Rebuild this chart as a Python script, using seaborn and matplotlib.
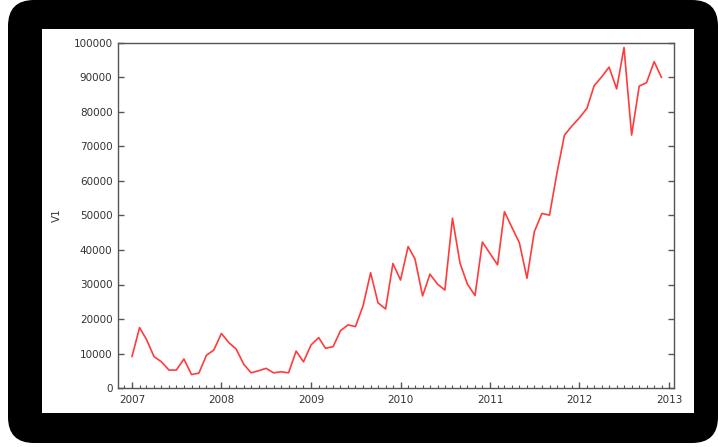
# ==================================================
# V1 monthly series, 2007 - 2012
# ==================================================
import matplotlib
matplotlib.use("Agg")
import matplotlib.pyplot as plt
import matplotlib.dates as mdates
from matplotlib.patches import FancyBboxPatch, Rectangle
from matplotlib.transforms import IdentityTransform
import seaborn as sns
import pandas as pd

sns.set_style("white")
plt.rcParams["font.family"] = ["DejaVu Sans"]

years = [2007, 2008, 2009, 2010, 2011, 2012]
v1_2007 = [9100, 17500, 14100, 9100, 7600, 5200, 5200, 8400, 3900, 4300, 9500, 11000]
v1_2008 = [15800, 13100, 11300, 6900, 4400, 5000, 5700, 4400, 4700, 4400, 10700, 7600]
v1_2009 = [12500, 14600, 11500, 12000, 16600, 18300, 17800, 23800, 33400, 24700, 22900, 36100]
v1_2010 = [31300, 41000, 37400, 26700, 33000, 30100, 28400, 49200, 36100, 30100, 26800, 42300]
v1_2011 = [39000, 35700, 51100, 46500, 42100, 31800, 45300, 50600, 50100, 62200, 73300, 75900]
v1_2012 = [78300, 81100, 87600, 90200, 93000, 86700, 98700, 73300, 87500, 88500, 94600, 90000]

values = v1_2007 + v1_2008 + v1_2009 + v1_2010 + v1_2011 + v1_2012
dates = pd.date_range(f"{years[0]}-01-01", periods=len(values), freq="MS")
df = pd.DataFrame({"date": dates, "V1": values})

fig = plt.figure(figsize=(7.18, 4.47), dpi=100)
fig.patch.set_facecolor("white")

# black rounded frame + white panel (pixel coords), behind the axes
frame = FancyBboxPatch((8, 4), 710, 443, boxstyle="round,pad=0,rounding_size=26",
                       transform=IdentityTransform(), facecolor="black",
                       edgecolor="none", zorder=-2)
panel = Rectangle((42, 447 - 413), 652, 384, transform=IdentityTransform(),
                  facecolor="white", edgecolor="none", zorder=-1)
fig.add_artist(frame)
fig.add_artist(panel)

ax = fig.add_axes([118 / 718, 1 - 388 / 447, 556 / 718, 345 / 447])
ax.set_facecolor("white")

sns.lineplot(data=df, x="date", y="V1", color="#ff3b3b", linewidth=1.2, ax=ax)

ax.set_ylim(0, 100000)
ax.set_xlim(pd.Timestamp("2006-11-05"), pd.Timestamp("2013-01-21"))
ax.set_yticks(range(0, 100001, 10000))
ax.xaxis.set_major_locator(mdates.YearLocator())
ax.xaxis.set_minor_locator(mdates.MonthLocator())
ax.xaxis.set_major_formatter(mdates.DateFormatter("%Y"))

for s in ax.spines.values():
    s.set_color("#555555")
    s.set_linewidth(1.0)

ax.tick_params(axis="y", which="major", direction="in", left=True, right=True,
               length=4.5, width=1, color="#555555", labelsize=7.5,
               labelcolor="#333333", pad=4)
ax.tick_params(axis="x", which="major", direction="in", bottom=True, top=False,
               length=4, width=1, color="#555555", labelsize=7.5,
               labelcolor="#333333", pad=5)
ax.tick_params(axis="x", which="minor", direction="in", bottom=True, top=False,
               length=2, width=0.8, color="#555555")

ax.set_xlabel("")
ax.set_ylabel("V1", fontsize=7.5, color="#333333", labelpad=8)
ax.grid(False)

fig.savefig("out.png", dpi=100)
